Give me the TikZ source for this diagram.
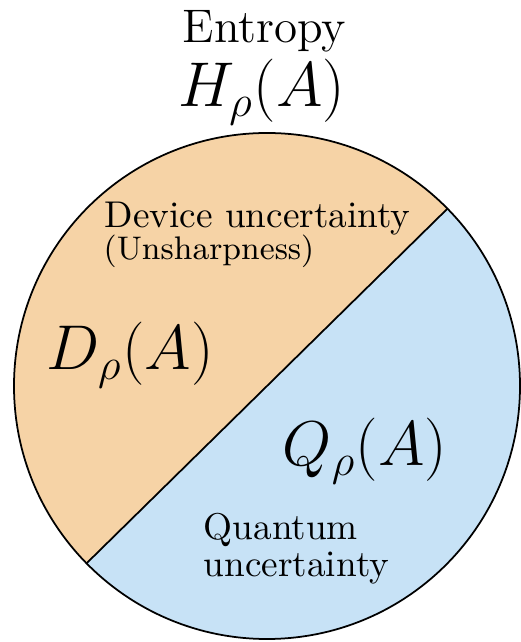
\RequirePackage{fix-cm}
\documentclass[tikz,border=0pt]{standalone}
\definecolor{DeviceClr}{rgb}{0.965,0.827,0.651}
\definecolor{QuantumClr}{rgb}{0.78,0.886,0.965}
\tikzset{
  txtlbl/.style={inner sep=0pt,anchor=base west,font=\fontsize{10.6}{12}\selectfont},
  mathlbl/.style={inner sep=0pt,anchor=base west,font=\fontsize{18}{21}\selectfont}
}

\begin{document}
\begin{tikzpicture}
\useasboundingbox (-2.67,-2.56) rectangle (2.54,3.86);

\coordinate (c) at (0,0);
\coordinate (p1) at (44.5:2.53);
\coordinate (p2) at (224.5:2.53);

% two halves
\fill[DeviceClr] (p1) arc (44.5:224.5:2.53) -- cycle;
\fill[QuantumClr] (p2) arc (224.5:404.5:2.53) -- cycle;

\draw[line width=0.5pt] (c) circle (2.53);
\draw[line width=0.5pt] (p1) -- (p2);

% title
\node[inner sep=0pt,anchor=base,font=\fontsize{13.4}{15}\selectfont] (ent) at (-0.025,3.43) {Entropy};
\node[mathlbl,anchor=base] (H) at (-0.055,2.79) {$H_\rho(A)$};

% device half
\node[txtlbl] (dev) at (-1.63,1.58) {Device uncertainty};
\node[txtlbl,font=\fontsize{9.3}{11}\selectfont] (unsh) at (-1.64,1.26) {(Unsharpness)};
\node[mathlbl] (D) at (-2.21,0.16) {$D_\rho(A)$};

% quantum half
\node[mathlbl] (Q) at (0.15,-0.80) {$Q_\rho(A)$};
\node[txtlbl] (qu) at (-0.64,-1.54) {Quantum};
\node[txtlbl] (qunc) at (-0.64,-1.90) {uncertainty};

\end{tikzpicture}
\end{document}
